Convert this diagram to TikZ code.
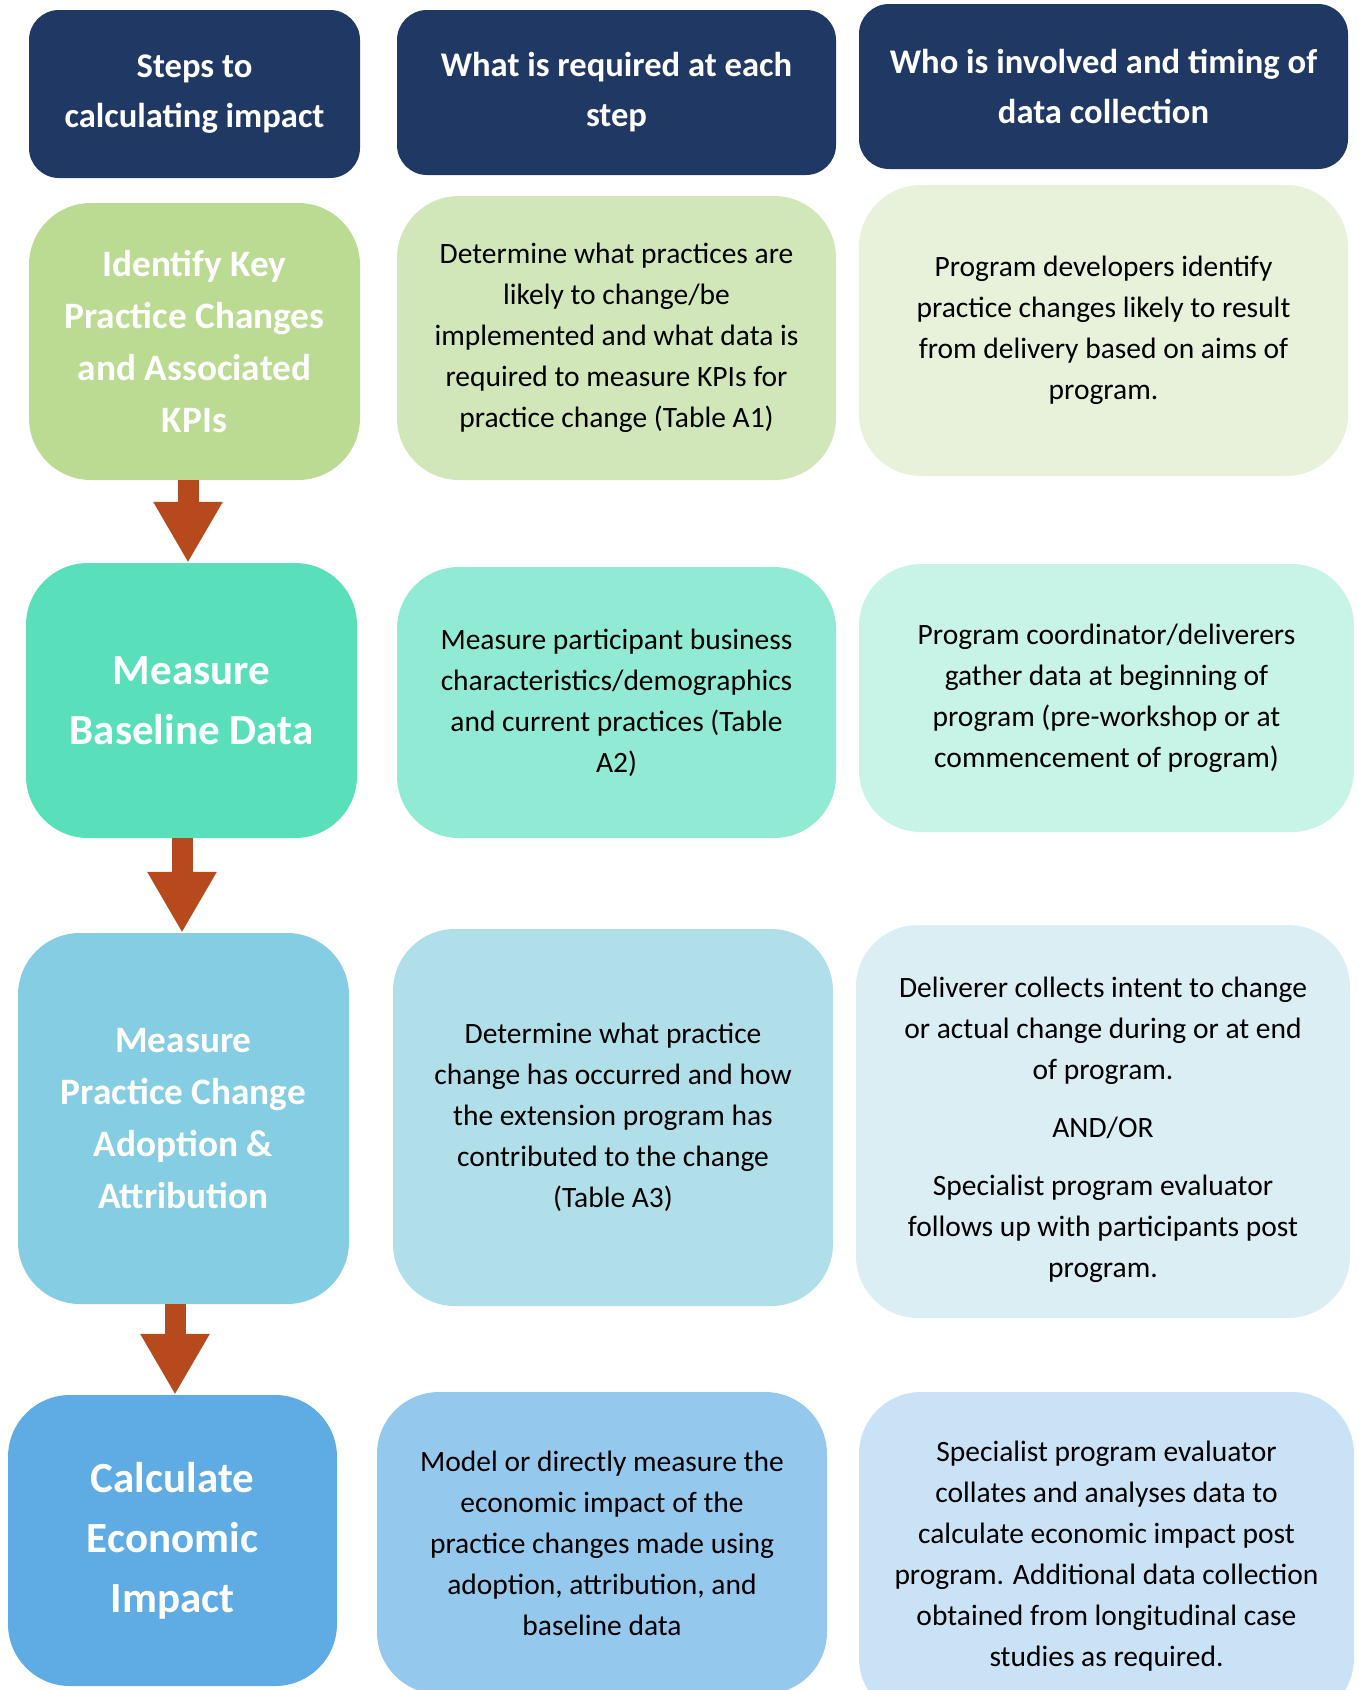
\documentclass[tikz,border=0pt]{standalone}
\usepackage{fontspec}
\setmainfont{Carlito}
\usetikzlibrary{arrows.meta}
\definecolor{navy}{HTML}{203864}
\definecolor{rust}{HTML}{B64A1C}
\definecolor{greenA}{HTML}{BADB91}
\definecolor{greenB}{HTML}{D2E7B9}
\definecolor{greenC}{HTML}{E8F2DA}
\definecolor{tealA}{HTML}{5ADFBB}
\definecolor{tealB}{HTML}{91EAD3}
\definecolor{tealC}{HTML}{C7F4E6}
\definecolor{cyanA}{HTML}{85CDE3}
\definecolor{cyanB}{HTML}{B0DFEA}
\definecolor{cyanC}{HTML}{DAEEF4}
\definecolor{blueA}{HTML}{5FABE3}
\definecolor{blueB}{HTML}{95C8ED}
\definecolor{blueC}{HTML}{CAE2F5}

\begin{document}
\begin{tikzpicture}
    [x=1pt,y=-1pt,
    box/.style={rounded corners=62pt,inner sep=0pt,align=center},
    head/.style={box,rounded corners=30pt,fill=navy,text=white,font=\fontsize{34.6}{50}\selectfont\bfseries},
    stepbox/.style={box,text=white,font=\fontsize{37.3}{52}\selectfont\bfseries},
    bigstep/.style={stepbox,font=\fontsize{43}{60}\selectfont\bfseries},
    body/.style={box,font=\fontsize{29.5}{41}\selectfont},
    down/.style={-{Triangle[length=61pt,width=65pt]},line width=21pt,draw=rust}]
    \useasboundingbox (0,0) rectangle (1359,1690);
    \clip (0,0) rectangle (1359,1690);

    % column headers
    \node[head,minimum width=331pt,minimum height=168pt] (h1) at (194.5,94) {Steps to\\calculating impact};
    \node[head,minimum width=439pt,minimum height=165pt] (h2) at (616.5,92.5) {What is required at each\\step};
    \node[head,minimum width=489pt,minimum height=165pt] (h3) at (1103.5,86.5) {Who is involved and timing of\\data collection};

    % step 1
    \node[stepbox,fill=greenA,minimum width=331pt,minimum height=277pt] (a1) at (194.5,341.5)
        {Identify Key\\Practice Changes\\and Associated\\KPIs};
    \node[body,fill=greenB,minimum width=439pt,minimum height=284pt] (b1) at (616.5,338)
        {Determine what practices are\\likely to change/be\\implemented and what data is\\required to measure KPIs for\\practice change (Table A1)};
    \node[body,fill=greenC,minimum width=489pt,minimum height=291pt] (c1) at (1103.5,330.5)
        {Program developers identify\\practice changes likely to result\\from delivery based on aims of\\program.};

    % step 2
    \node[bigstep,fill=tealA,minimum width=331pt,minimum height=275pt] (a2) at (191.5,700.5)
        {Measure\\Baseline Data};
    \node[body,fill=tealB,minimum width=439pt,minimum height=271pt] (b2) at (616.5,702.5)
        {Measure participant business\\characteristics/demographics\\and current practices (Table\\A2)};
    \node[body,fill=tealC,minimum width=495pt,minimum height=268pt] (c2) at (1106.5,698)
        {Program coordinator/deliverers\\gather data at beginning of\\program (pre-workshop or at\\commencement of program)};

    % step 3
    \node[stepbox,fill=cyanA,minimum width=331pt,minimum height=371pt] (a3) at (183.5,1118.5)
        {Measure\\Practice Change\\Adoption \&\\Attribution};
    \node[body,fill=cyanB,minimum width=440pt,minimum height=377pt] (b3) at (613,1117.5)
        {Determine what practice\\change has occurred and how\\the extension program has\\contributed to the change\\(Table A3)};
    \node[body,fill=cyanC,minimum width=494pt,minimum height=393pt] (c3) at (1103,1121.5) {};
    \node[body] (c3txt) at ([yshift=-8pt]c3.center)
        {Deliverer collects intent to change\\or actual change during or at end\\of program.\\[17pt]AND/OR\\[17pt]Specialist program evaluator\\follows up with participants post\\program.};

    % step 4
    \node[bigstep,fill=blueA,minimum width=329pt,minimum height=291pt] (a4) at (172.5,1540.5)
        {Calculate\\Economic\\Impact};
    \node[body,fill=blueB,minimum width=450pt,minimum height=302pt] (b4) at (602,1543)
        {Model or directly measure the\\economic impact of the\\practice changes made using\\adoption, attribution, and\\baseline data};
    \node[body,fill=blueC,minimum width=495pt,minimum height=328pt] (c4) at (1106.5,1556)
        {Specialist program evaluator\\collates and analyses data to\\calculate economic impact post\\program. Additional data collection\\obtained from longitudinal case\\studies as required.};

    \draw[down] ([xshift=-6.5pt]a1.south) -- ([xshift=-6.5pt]a1.south |- a2.north);
    \draw[down] ([xshift=-9.5pt]a2.south) -- ([xshift=-9.5pt]a2.south |- a3.north);
    \draw[down] ([xshift=-8.5pt]a3.south) -- ([xshift=-8.5pt]a3.south |- a4.north);
\end{tikzpicture}
\end{document}
